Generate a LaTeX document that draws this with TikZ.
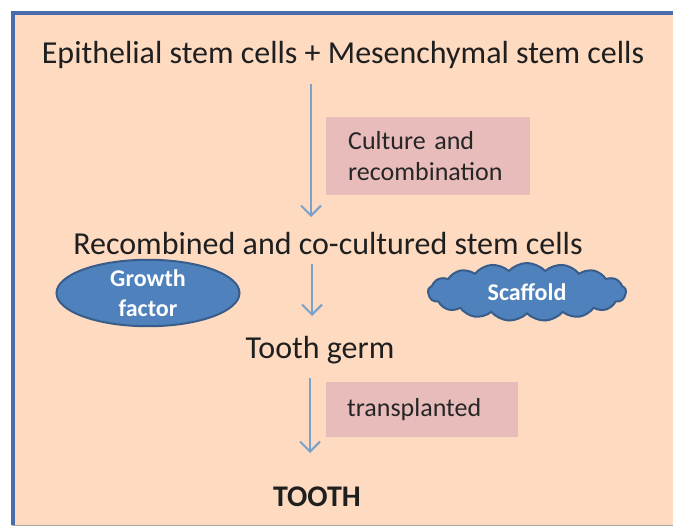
\documentclass[tikz,border=0pt]{standalone}
\usepackage{fontspec}
\setmainfont{Carlito}
\usepackage{tikz}
\usetikzlibrary{arrows.meta,positioning,shapes.geometric,shapes.symbols}
\definecolor{peche}{RGB}{253,218,192}
\definecolor{bleuCadre}{RGB}{74,108,170}
\definecolor{bleuFleche}{RGB}{122,160,204}
\definecolor{bleuForme}{RGB}{79,129,189}
\definecolor{bleuBord}{RGB}{56,93,138}
\definecolor{rosePale}{RGB}{232,188,186}
\definecolor{grisBord}{RGB}{165,165,165}

\begin{document}
\begin{tikzpicture}[x=1pt,y=-1pt,
  etape/.style={inner sep=0pt,font=\fontsize{32}{38}\selectfont,text=black!88},
  note/.style={rectangle,fill=rosePale,anchor=north west,inner xsep=18pt,
               align=left,font=\fontsize{26}{31}\selectfont,text=black!85},
  forme/.style={fill=bleuForme,draw=bleuBord,line width=2pt,inner sep=0pt,
                text=white,align=center,font=\fontsize{24}{30}\selectfont\bfseries},
  fleche/.style={-{Straight Barb[length=10pt,width=20pt]},bleuFleche,line width=2pt}]
  \useasboundingbox (0,0) rectangle (673,527);
  % cadre
  \fill[peche] (12,12) rectangle (673,525);
  \draw[bleuCadre,line width=4pt] (13,525) -- (13,13) -- (673,13);
  \draw[grisBord,line width=1.5pt] (12,525.5) -- (673,525.5);

  \node[etape] (E1) at (343,55) {Epithelial stem cells + Mesenchymal stem cells};
  \node[etape] (E2) at (328,244) {Recombined and co-cultured stem cells};
  \node[etape] (E3) at (320,350) {Tooth germ};
  \node[etape,font=\fontsize{30}{36}\selectfont\bfseries] (E4) at (317,497) {TOOTH};

  \node[note,minimum width=204pt,minimum height=78pt,text width=160pt] (N1)
    at (326,117) {Culture and\\recombination};
  \node[note,minimum width=192pt,minimum height=55pt,text width=150pt] (N2)
    at (326,382) {transplanted};

  \node[forme,ellipse,minimum width=183pt,minimum height=60pt] (F1)
    at (148,293) {Growth\\factor};
  \node[forme,cloud,cloud puffs=17,cloud puff arc=95,aspect=3.2,
        minimum width=198pt,minimum height=58pt] (F2) at (527,292) {Scaffold};

  \coordinate (a1) at (311,84);  \coordinate (b1) at (311,217);
  \coordinate (a2) at (312,264); \coordinate (b2) at (312,316);
  \coordinate (a3) at (310,378); \coordinate (b3) at (310,453);
  \draw[fleche] (a1) -- (b1);
  \draw[fleche] (a2) -- (b2);
  \draw[fleche] (a3) -- (b3);
\end{tikzpicture}
\end{document}
